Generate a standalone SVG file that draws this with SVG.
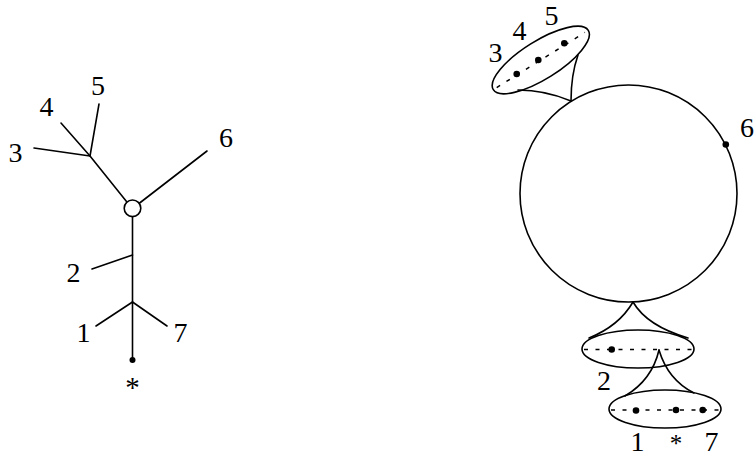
<svg xmlns="http://www.w3.org/2000/svg" width="756" height="458" viewBox="0 0 756 458">
<style>
.ln{fill:none;stroke:#000;stroke-width:1.6;stroke-linecap:round}
.ring{fill:#fff;stroke:#000;stroke-width:1.6}
.ell{fill:none;stroke:#000;stroke-width:1.6}
.dash{fill:none;stroke:#000;stroke-width:1.5;stroke-dasharray:4 7.5}
.dot{fill:#000}
.lb{font-family:"Liberation Serif","Times New Roman",serif;font-size:28px;fill:#000;text-anchor:middle}
.ast{font-family:"Liberation Serif","Times New Roman",serif;font-size:29px;fill:#000;text-anchor:middle}
.ast2{font-family:"Liberation Serif","Times New Roman",serif;font-size:25px;fill:#000;text-anchor:middle}
</style>
<rect width="756" height="458" fill="#fff"/>
<g id="connectors">
  <line class="ln" x1="132.5" y1="216.5" x2="132.5" y2="360"/>
  <line class="ln" x1="132.5" y1="255" x2="92" y2="269"/>
  <line class="ln" x1="132.5" y1="302" x2="96" y2="326"/>
  <line class="ln" x1="132.5" y1="302" x2="167" y2="326"/>
  <polyline class="ln" points="126.5,201.5 90,156 61,123"/>
  <line class="ln" x1="90" y1="156" x2="34" y2="148"/>
  <line class="ln" x1="90" y1="156" x2="99" y2="104"/>
  <line class="ln" x1="139" y1="203.5" x2="207" y2="151"/>
  <path class="ln" d="M571,101 Q571,75 578,55"/>
  <path class="ln" d="M571,101 Q545,90 518,90"/>
  <path class="ln" d="M633,302 Q619,326 589,338"/>
  <path class="ln" d="M633,302 Q647,326 688,338"/>
  <path class="ln" d="M659,350 Q652,380 625,396"/>
  <path class="ln" d="M659,350 Q668,380 694,393"/>
</g>
<g id="tree-vertex">
  <circle class="ring" cx="132.5" cy="208.3" r="8.3"/>
</g>
<g id="tree-root">
  <circle class="dot" cx="132.5" cy="360" r="3"/>
  <text class="ast" x="132.5" y="397">*</text>
</g>
<g id="tree-labels">
  <text class="lb" x="98" y="95">5</text>
  <text class="lb" x="46.5" y="116">4</text>
  <text class="lb" x="15.5" y="162">3</text>
  <text class="lb" x="226" y="147">6</text>
  <text class="lb" x="73.5" y="282">2</text>
  <text class="lb" x="83.5" y="342">1</text>
  <text class="lb" x="180.5" y="342">7</text>
</g>
<g id="big-circle">
  <circle class="ell" cx="628.5" cy="193.5" r="108.5"/>
  <circle class="dot" cx="725.8" cy="144.5" r="3.3"/>
  <text class="lb" x="747" y="137">6</text>
</g>
<g id="ellipse-top">
  <g transform="rotate(-32 540.8 60)">
    <ellipse class="ell" cx="540.8" cy="60" rx="56" ry="19"/>
    <line class="dash" x1="488.8" y1="60" x2="592.8" y2="60"/>
  </g>
  <circle class="dot" cx="516.7" cy="74" r="3.3"/>
  <circle class="dot" cx="538.3" cy="60" r="3.3"/>
  <circle class="dot" cx="564.3" cy="43.3" r="3.3"/>
  <text class="lb" x="495.5" y="62">3</text>
  <text class="lb" x="519.5" y="40">4</text>
  <text class="lb" x="551.5" y="25">5</text>
</g>
<g id="ellipse-middle">
  <ellipse class="ell" cx="638" cy="349" rx="56" ry="19"/>
  <line class="dash" x1="584" y1="349.5" x2="692" y2="349.5"/>
  <circle class="dot" cx="611.7" cy="349.5" r="3.3"/>
  <text class="lb" x="604" y="390">2</text>
</g>
<g id="ellipse-bottom">
  <ellipse class="ell" cx="665" cy="409" rx="56" ry="19"/>
  <line class="dash" x1="611" y1="410" x2="719" y2="410"/>
  <circle class="dot" cx="636" cy="410.5" r="3.3"/>
  <circle class="dot" cx="676" cy="410" r="3.3"/>
  <circle class="dot" cx="702.7" cy="410" r="3.3"/>
  <text class="lb" x="637.5" y="451">1</text>
  <text class="ast2" x="676" y="452">*</text>
  <text class="lb" x="711.5" y="451">7</text>
</g>
</svg>
